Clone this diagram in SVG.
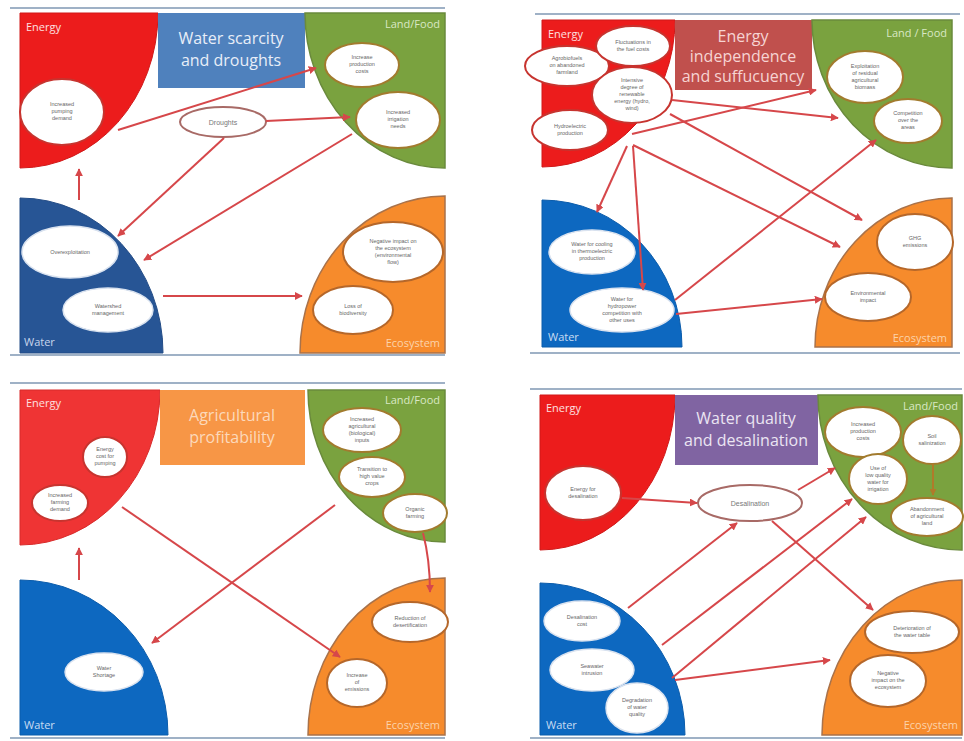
<svg xmlns="http://www.w3.org/2000/svg" width="964" height="741" viewBox="0 0 964 741">
<style>
.frame{stroke:#9fb1c6;stroke-width:2}
.en{fill:#ec1c1c;stroke:#d01818;stroke-width:1}
.en3{fill:#ef3434;stroke:#d82a2a;stroke-width:1}
.la{fill:#7aa23f;stroke:#6a8a3c;stroke-width:1.5}
.wa1{fill:#275595;stroke:#234c86;stroke-width:1}
.wa{fill:#0d68c0;stroke:#0b5cab;stroke-width:1}
.ec{fill:#f68b2c;stroke:#a9724a;stroke-width:1.5}
.ne{fill:#fff;stroke:#c7342f;stroke-width:2}
.nl{fill:#fff;stroke:#a27b2e;stroke-width:2}
.nw{fill:#fff;stroke:#d9e2ef;stroke-width:1.5}
.no{fill:#fff;stroke:#b5672a;stroke-width:2}
.nc{fill:#fff;stroke:#a86a66;stroke-width:2}
.t{font-family:"Liberation Sans",Arial,sans-serif;font-size:5.5px;fill:#666;text-anchor:middle}
.tc{font-family:"Liberation Sans",Arial,sans-serif;font-size:7px;fill:#777;text-anchor:middle}
.q{font-family:"Open Sans","Liberation Sans",sans-serif;font-size:11px}
.ttl{font-family:"Open Sans","Liberation Sans",sans-serif;font-size:16px;text-anchor:middle}
.arr{stroke:#d6474a;stroke-width:2;fill:none;marker-end:url(#ah)}
.arrb{stroke:#b07a2a;stroke-width:2;fill:none;marker-end:url(#ahb)}
</style>
<defs>
<marker id="ah" viewBox="0 0 10 10" refX="9" refY="5" markerWidth="8" markerHeight="8" markerUnits="userSpaceOnUse" orient="auto"><path d="M0,0 L10,5 L0,10 Z" fill="#d6474a"/></marker>
<marker id="ahb" viewBox="0 0 10 10" refX="9" refY="5" markerWidth="7" markerHeight="7" markerUnits="userSpaceOnUse" orient="auto"><path d="M0,0 L10,5 L0,10 Z" fill="#b07a2a"/></marker>
</defs>
<rect width="964" height="741" fill="#fff"/>

<!-- ===== Panel 1 ===== -->
<g id="panel1">
<line class="frame" x1="10" y1="8" x2="445" y2="8"/>
<line class="frame" x1="10" y1="355" x2="445" y2="355"/>
<g id="p1-energy"><path class="en" d="M20,13 H158 A138,155 0 0 1 20,168 Z"/><text class="q" x="26" y="31" fill="#fde0e0">Energy</text></g>
<g id="p1-title"><rect x="158" y="13" width="147" height="75" fill="#4f81bd"/><text class="ttl" fill="#e8eef8" font-size="17"><tspan x="231" y="44">Water scarcity</tspan><tspan x="231" y="66">and droughts</tspan></text></g>
<g id="p1-land"><path class="la" d="M445,13 H305 A140,155 0 0 0 445,168 Z"/><text class="q" x="440" y="28" text-anchor="end" fill="#d9e8c4">Land/Food</text></g>
<g id="p1-water"><path class="wa1" d="M20,353 V198 A143,155 0 0 1 163,353 Z"/><text class="q" x="24" y="346" fill="#c8d6ec">Water</text></g>
<g id="p1-eco"><path class="ec" d="M445,353 V196 A145,157 0 0 0 300,353 Z"/><text class="q" x="440" y="347" text-anchor="end" fill="#fcd3aa">Ecosystem</text></g>
</g>
<g id="p1-n-pumping"><ellipse class="ne" cx="62" cy="112" rx="42" ry="33"/><text class="t"><tspan x="62" y="106">Increased</tspan><tspan x="62" y="113">pumping</tspan><tspan x="62" y="120">demand</tspan></text></g>
<g id="p1-n-costs"><ellipse class="nl" cx="362" cy="65" rx="37" ry="22"/><text class="t"><tspan x="362" y="59">Increase</tspan><tspan x="362" y="66">production</tspan><tspan x="362" y="73">costs</tspan></text></g>
<g id="p1-n-irrig"><ellipse class="nl" cx="398" cy="120" rx="42" ry="28"/><text class="t"><tspan x="398" y="114">Increased</tspan><tspan x="398" y="121">irrigation</tspan><tspan x="398" y="128">needs</tspan></text></g>
<g id="p1-n-droughts"><ellipse class="nc" cx="223" cy="122" rx="43" ry="15"/><text class="tc" x="223" y="124.5">Droughts</text></g>
<g id="p1-n-overexp"><ellipse class="nw" cx="70" cy="252" rx="48" ry="26"/><text class="t" x="70" y="254">Overexploitation</text></g>
<g id="p1-n-watershed"><ellipse class="nw" cx="108" cy="310" rx="45" ry="22"/><text class="t"><tspan x="108" y="308">Watershed</tspan><tspan x="108" y="315">management</tspan></text></g>
<g id="p1-n-negimpact"><ellipse class="no" cx="393" cy="252" rx="50" ry="30"/><text class="t"><tspan x="393" y="243">Negative impact on</tspan><tspan x="393" y="250">the ecosystem</tspan><tspan x="393" y="257">(environmental</tspan><tspan x="393" y="264">flow)</tspan></text></g>
<g id="p1-n-biodiv"><ellipse class="no" cx="353" cy="310" rx="40" ry="24"/><text class="t"><tspan x="353" y="308">Loss of</tspan><tspan x="353" y="315">biodiversity</tspan></text></g>

<!-- ===== Panel 2 ===== -->
<g id="panel2">
<line class="frame" x1="535" y1="14" x2="960" y2="14"/>
<line class="frame" x1="530" y1="353" x2="960" y2="353"/>
<g id="p2-energy"><path class="en" d="M542,20 H675 A133,147 0 0 1 542,167 Z"/><text class="q" x="548" y="38" fill="#fde0e0">Energy</text></g>
<g id="p2-title"><rect x="675" y="20" width="137" height="70" fill="#c0504d"/><text class="ttl" fill="#f6d4d3"><tspan x="743" y="42">Energy</tspan><tspan x="743" y="62">independence</tspan><tspan x="743" y="82">and suffucuency</tspan></text></g>
<g id="p2-land"><path class="la" d="M952,20 H812 A140,148 0 0 0 952,168 Z"/><text class="q" x="947" y="37" text-anchor="end" fill="#d9e8c4">Land / Food</text></g>
<g id="p2-water"><path class="wa" d="M542,347 V200 A140,147 0 0 1 682,347 Z"/><text class="q" x="548" y="341" fill="#c8dcf2">Water</text></g>
<g id="p2-eco"><path class="ec" d="M952,347 V198 A137,149 0 0 0 815,347 Z"/><text class="q" x="947" y="342" text-anchor="end" fill="#fcd3aa">Ecosystem</text></g>
</g>
<g id="p2-n-agrobio"><ellipse class="ne" cx="567" cy="66" rx="42" ry="20"/><text class="t"><tspan x="567" y="60">Agrobiofuels</tspan><tspan x="567" y="67">on abandoned</tspan><tspan x="567" y="74">farmland</tspan></text></g>
<g id="p2-n-fuel"><ellipse class="ne" cx="633" cy="46" rx="37" ry="20"/><text class="t"><tspan x="633" y="44">Fluctuations in</tspan><tspan x="633" y="51">the fuel costs</tspan></text></g>
<g id="p2-n-intensive"><ellipse class="ne" cx="632" cy="95" rx="40" ry="28"/><text class="t"><tspan x="632" y="82">Intensive</tspan><tspan x="632" y="89">degree of</tspan><tspan x="632" y="96">renewable</tspan><tspan x="632" y="103">energy (hydro,</tspan><tspan x="632" y="110">wind)</tspan></text></g>
<g id="p2-n-hydro"><ellipse class="ne" cx="570" cy="130" rx="38" ry="20"/><text class="t"><tspan x="570" y="128">Hydroelectric</tspan><tspan x="570" y="135">production</tspan></text></g>
<g id="p2-n-residual"><ellipse class="nl" cx="865" cy="77" rx="38" ry="26"/><text class="t"><tspan x="865" y="68">Exploitation</tspan><tspan x="865" y="75">of residual</tspan><tspan x="865" y="82">agricultural</tspan><tspan x="865" y="89">biomass</tspan></text></g>
<g id="p2-n-competition"><ellipse class="nl" cx="908" cy="121" rx="34" ry="22"/><text class="t"><tspan x="908" y="115">Competition</tspan><tspan x="908" y="122">over the</tspan><tspan x="908" y="129">areas</tspan></text></g>
<g id="p2-n-cooling"><ellipse class="nw" cx="592" cy="252" rx="43" ry="22"/><text class="t"><tspan x="592" y="246">Water for cooling</tspan><tspan x="592" y="253">in thermoelectric</tspan><tspan x="592" y="260">production</tspan></text></g>
<g id="p2-n-hydrowater"><ellipse class="nw" cx="622" cy="310" rx="52" ry="22"/><text class="t"><tspan x="622" y="301">Water for</tspan><tspan x="622" y="308">hydropower</tspan><tspan x="622" y="315">competition with</tspan><tspan x="622" y="322">other uses</tspan></text></g>
<g id="p2-n-ghg"><ellipse class="no" cx="915" cy="242" rx="38" ry="28"/><text class="t"><tspan x="915" y="240">GHG</tspan><tspan x="915" y="247">emissions</tspan></text></g>
<g id="p2-n-envimpact"><ellipse class="no" cx="868" cy="297" rx="43" ry="24"/><text class="t"><tspan x="868" y="295">Environmental</tspan><tspan x="868" y="302">impact</tspan></text></g>

<!-- ===== Panel 3 ===== -->
<g id="panel3">
<line class="frame" x1="10" y1="383" x2="445" y2="383"/>
<line class="frame" x1="10" y1="738" x2="445" y2="738"/>
<g id="p3-energy"><path class="en3" d="M20,390 H160 A140,155 0 0 1 20,545 Z"/><text class="q" x="26" y="407" fill="#fde0e0">Energy</text></g>
<g id="p3-title"><rect x="160" y="390" width="145" height="75" fill="#f79646"/><text class="ttl" fill="#fcd9bb" font-size="17"><tspan x="232" y="421">Agricultural</tspan><tspan x="232" y="443">profitability</tspan></text></g>
<g id="p3-land"><path class="la" d="M445,390 H308 A137,152 0 0 0 445,542 Z"/><text class="q" x="440" y="404" text-anchor="end" fill="#d9e8c4">Land/Food</text></g>
<g id="p3-water"><path class="wa" d="M20,735 V580 A148,155 0 0 1 168,735 Z"/><text class="q" x="24" y="729" fill="#c8dcf2">Water</text></g>
<g id="p3-eco"><path class="ec" d="M445,735 V578 A137,157 0 0 0 308,735 Z"/><text class="q" x="440" y="729" text-anchor="end" fill="#fcd3aa">Ecosystem</text></g>
</g>
<g id="p3-n-pumpcost"><ellipse class="ne" cx="105" cy="457" rx="22" ry="20"/><text class="t"><tspan x="105" y="451">Energy</tspan><tspan x="105" y="458">cost for</tspan><tspan x="105" y="465">pumping</tspan></text></g>
<g id="p3-n-farming"><ellipse class="ne" cx="60" cy="503" rx="28" ry="18"/><text class="t"><tspan x="60" y="497">Increased</tspan><tspan x="60" y="504">farming</tspan><tspan x="60" y="511">demand</tspan></text></g>
<g id="p3-n-inputs"><ellipse class="nl" cx="362" cy="430" rx="39" ry="22"/><text class="t"><tspan x="362" y="421">Increased</tspan><tspan x="362" y="428">agricultural</tspan><tspan x="362" y="435">(biological)</tspan><tspan x="362" y="442">inputs</tspan></text></g>
<g id="p3-n-highvalue"><ellipse class="nl" cx="372" cy="477" rx="33" ry="20"/><text class="t"><tspan x="372" y="471">Transition to</tspan><tspan x="372" y="478">high value</tspan><tspan x="372" y="485">crops</tspan></text></g>
<g id="p3-n-organic"><ellipse class="nl" cx="415" cy="513" rx="32" ry="19"/><text class="t"><tspan x="415" y="511">Organic</tspan><tspan x="415" y="518">farming</tspan></text></g>
<g id="p3-n-shortage"><ellipse class="nw" cx="104" cy="672" rx="39" ry="19"/><text class="t"><tspan x="104" y="670">Water</tspan><tspan x="104" y="677">Shortage</tspan></text></g>
<g id="p3-n-desert"><ellipse class="no" cx="410" cy="622" rx="38" ry="20"/><text class="t"><tspan x="410" y="620">Reduction of</tspan><tspan x="410" y="627">desertification</tspan></text></g>
<g id="p3-n-emissions"><ellipse class="no" cx="357" cy="683" rx="30" ry="24"/><text class="t"><tspan x="357" y="677">Increase</tspan><tspan x="357" y="684">of</tspan><tspan x="357" y="691">emissions</tspan></text></g>

<!-- ===== Panel 4 ===== -->
<g id="panel4">
<line class="frame" x1="530" y1="389" x2="962" y2="389"/>
<line class="frame" x1="530" y1="738" x2="962" y2="738"/>
<g id="p4-energy"><path class="en" d="M540,395 H675 A135,155 0 0 1 540,550 Z"/><text class="q" x="546" y="412" fill="#fde0e0">Energy</text></g>
<g id="p4-title"><rect x="675" y="395" width="143" height="70" fill="#8064a2"/><text class="ttl" fill="#ebe5f2" font-size="17"><tspan x="746" y="424">Water quality</tspan><tspan x="746" y="446">and desalination</tspan></text></g>
<g id="p4-land"><path class="la" d="M962,395 H818 A144,155 0 0 0 962,550 Z"/><text class="q" x="958" y="410" text-anchor="end" fill="#d9e8c4">Land/Food</text></g>
<g id="p4-water"><path class="wa" d="M540,735 V583 A145,152 0 0 1 685,735 Z"/><text class="q" x="546" y="729" fill="#c8dcf2">Water</text></g>
<g id="p4-eco"><path class="ec" d="M962,735 V580 A140,155 0 0 0 822,735 Z"/><text class="q" x="958" y="729" text-anchor="end" fill="#fcd3aa">Ecosystem</text></g>
</g>
<g id="p4-n-endesal"><ellipse class="ne" cx="583" cy="493" rx="38" ry="27"/><text class="t"><tspan x="583" y="491">Energy for</tspan><tspan x="583" y="498">desalination</tspan></text></g>
<g id="p4-n-desal"><ellipse class="nc" cx="750" cy="503" rx="52" ry="18"/><text class="tc" x="750" y="505.5">Desalination</text></g>
<g id="p4-n-costs"><ellipse class="nl" cx="863" cy="432" rx="38" ry="25"/><text class="t"><tspan x="863" y="426">Increased</tspan><tspan x="863" y="433">production</tspan><tspan x="863" y="440">costs</tspan></text></g>
<g id="p4-n-salin"><ellipse class="nl" cx="932" cy="440" rx="29" ry="24"/><text class="t"><tspan x="932" y="438">Soil</tspan><tspan x="932" y="445">salinization</tspan></text></g>
<g id="p4-n-lowq"><ellipse class="nl" cx="878" cy="479" rx="29" ry="25"/><text class="t"><tspan x="878" y="470">Use of</tspan><tspan x="878" y="477">low quality</tspan><tspan x="878" y="484">water for</tspan><tspan x="878" y="491">irrigation</tspan></text></g>
<g id="p4-n-abandon"><ellipse class="nl" cx="927" cy="517" rx="36" ry="19"/><text class="t"><tspan x="927" y="511">Abandonment</tspan><tspan x="927" y="518">of agricultural</tspan><tspan x="927" y="525">land</tspan></text></g>
<g id="p4-n-dcost"><ellipse class="nw" cx="582" cy="621" rx="38" ry="20"/><text class="t"><tspan x="582" y="619">Desalination</tspan><tspan x="582" y="626">cost</tspan></text></g>
<g id="p4-n-seawater"><ellipse class="nw" cx="592" cy="670" rx="42" ry="21"/><text class="t"><tspan x="592" y="668">Seawater</tspan><tspan x="592" y="675">intrusion</tspan></text></g>
<g id="p4-n-quality"><ellipse class="nw" cx="637" cy="708" rx="31" ry="25"/><text class="t"><tspan x="637" y="702">Degradation</tspan><tspan x="637" y="709">of water</tspan><tspan x="637" y="716">quality</tspan></text></g>
<g id="p4-n-table"><ellipse class="no" cx="912" cy="632" rx="47" ry="21"/><text class="t"><tspan x="912" y="630">Deterioration of</tspan><tspan x="912" y="637">the water table</tspan></text></g>
<g id="p4-n-negimpact"><ellipse class="no" cx="888" cy="681" rx="38" ry="26"/><text class="t"><tspan x="888" y="675">Negative</tspan><tspan x="888" y="682">impact on the</tspan><tspan x="888" y="689">ecosystem</tspan></text></g>

<!-- ===== Connectors ===== -->
<g id="connectors">
<!-- panel 1 -->
<line class="arr" x1="79" y1="200" x2="79" y2="169"/>
<line class="arr" x1="118" y1="130" x2="316" y2="68"/>
<line class="arr" x1="266" y1="121" x2="350" y2="117"/>
<line class="arr" x1="224" y1="138" x2="118" y2="236"/>
<line class="arr" x1="352" y1="134" x2="144" y2="260"/>
<line class="arr" x1="163" y1="296" x2="302" y2="296"/>
<!-- panel 2 -->
<line class="arr" x1="672" y1="100" x2="838" y2="118"/>
<line class="arr" x1="632" y1="134" x2="816" y2="90"/>
<line class="arr" x1="670" y1="114" x2="862" y2="220"/>
<line class="arr" x1="633" y1="145" x2="840" y2="247"/>
<line class="arr" x1="627" y1="146" x2="597" y2="212"/>
<line class="arr" x1="633" y1="146" x2="643" y2="290"/>
<line class="arr" x1="675" y1="300" x2="876" y2="140"/>
<line class="arr" x1="676" y1="314" x2="822" y2="299"/>
<!-- panel 3 -->
<line class="arr" x1="79" y1="580" x2="79" y2="548"/>
<line class="arr" x1="122" y1="507" x2="340" y2="657"/>
<line class="arr" x1="335" y1="505" x2="152" y2="643"/>
<path class="arr" d="M423,533 Q430,560 430,592"/>
<!-- panel 4 -->
<line class="arr" x1="622" y1="498" x2="697" y2="503"/>
<line class="arr" x1="798" y1="490" x2="835" y2="468"/>
<line class="arr" x1="628" y1="608" x2="737" y2="523"/>
<line class="arr" x1="772" y1="521" x2="873" y2="610"/>
<line class="arr" x1="662" y1="645" x2="852" y2="499"/>
<line class="arr" x1="672" y1="678" x2="866" y2="517"/>
<line class="arr" x1="675" y1="680" x2="830" y2="660"/>
<line class="arrb" x1="933" y1="464" x2="933" y2="495"/>
</g>
</svg>
